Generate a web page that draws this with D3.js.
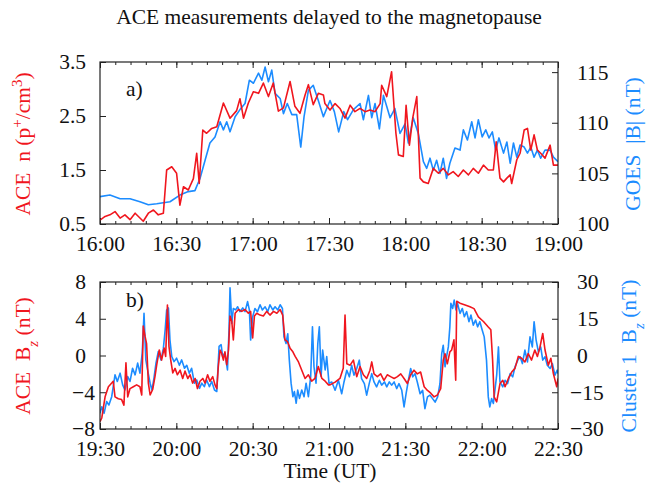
<!DOCTYPE html>
<html>
<head>
<meta charset="utf-8">
<script src="https://cdn.jsdelivr.net/npm/d3@7"></script>
<style>
  body { margin: 0; background: #fff; }
  svg text { font-family: "Liberation Serif", "Times New Roman", serif; fill: #111; }
  .axis path, .axis line { stroke: #222; }
</style>
</head>
<body>
<div id="chart"></div>
<script>
// panel a) 16:00-19:00, minutes after 16:00
var aceN = [[0,0.57],[2,0.64],[3.9,0.67],[5.9,0.73],[7.9,0.61],[9.8,0.67],[11.8,0.58],[13.8,0.7],[15.7,0.61],[17,0.55],[19,0.7],[21,0.76],[22.9,0.67],[24.9,0.7],[26.2,1.5],[28.2,1.56],[30.1,1.44],[31.4,0.85],[32.8,1.19],[34.7,1.13],[36.7,1.34],[38,1.81],[39,1.25],[40.4,2.24],[41.9,2.18],[43.9,2.27],[45.9,2.3],[48.5,2.74],[51.1,2.46],[53.7,2.6],[55,2.82],[56.4,2.46],[58.3,2.74],[60.3,2.95],[62.3,2.92],[64.2,3.11],[66.2,2.86],[68.1,3.11],[70.1,2.59],[72.1,2.65],[74.7,3.14],[76.6,2.68],[78.6,2.55],[80.6,2.89],[81.9,3.08],[83.8,2.71],[85.8,2.92],[87.8,2.89],[88.4,2.73],[90.4,2.61],[92.4,2.73],[94.3,2.64],[96.3,2.46],[98.3,2.7],[100.2,2.58],[102.2,2.64],[104.2,2.58],[106.1,2.61],[108.1,2.58],[110.1,2.73],[110.7,3.07],[112.7,2.86],[114.6,3.32],[116.3,2.18],[117.3,1.78],[119.2,1.75],[120.3,2.7],[121.6,1.96],[122.9,2.46],[124.5,2.86],[125.8,1.35],[127.1,1.28],[129,1.25],[131,1.53],[133,1.44],[134.9,1.53],[136.9,1.41],[138.8,1.47],[140.8,1.38],[142.8,1.5],[144.8,1.41],[146.7,1.53],[148.7,1.44],[150.7,1.59],[152.6,1.5],[154.6,1.5],[155.7,2.02],[157.2,1.35],[158.6,1.28],[159.9,1.35],[161.2,1.41],[161.8,1.25],[163.8,1.69],[165.1,1.81],[166.7,2.24],[168,2.27],[169.3,1.87],[170.6,2.15],[171.9,1.87],[173.2,1.81],[174.9,1.72],[176.9,1.96],[178.2,1.59],[180,1.59]];

var goesB = [[0,102.7],[3.9,102.86],[7.9,102.5],[11.8,102.5],[15.7,102.2],[19,101.9],[22.3,102.0],[24.9,102.1],[27.5,102.2],[31.4,102.86],[34.7,103.2],[37.3,103.3],[39.3,104.5],[41.3,106.3],[43.2,108.0],[45.2,108.6],[47.2,110.1],[48.5,109.3],[49.8,110.1],[51.1,109.1],[53.1,110.6],[55,111.3],[57,111.9],[58.7,114.2],[60.3,113.9],[62.3,114.9],[63.6,114.2],[64.9,115.5],[66.2,114.05],[67.5,115.2],[68.8,112.9],[70.8,112.4],[72.1,110.9],[73.6,111.9],[75.4,110.8],[77.3,110.8],[78.9,107.6],[80.2,110.6],[81.9,113.2],[83.8,113.7],[85.8,112.2],[87.8,110.6],[90.4,112.2],[92.1,111.1],[93.8,109.1],[95.8,111.1],[97.3,110.3],[99.6,111.3],[102.2,111.9],[103.5,110.3],[105.5,112.7],[106.8,110.5],[108.1,111.9],[109.8,109.4],[111.4,112.7],[112.7,111.6],[114,110.5],[115.9,111.4],[117.9,108.95],[119.9,109.9],[121.2,108.0],[123.1,110.5],[125.1,108.95],[127.1,106.15],[128.4,105.5],[129.7,106.5],[131,105.3],[132.3,106.3],[133.6,105.0],[134.9,106.5],[136.2,104.5],[137.5,106.0],[139.5,107.5],[141.5,107.3],[142.8,109.3],[144.4,108.3],[146.1,110.1],[147.4,108.5],[148.7,110.3],[150.2,108.6],[151.6,109.3],[152.9,108.5],[154.2,109.1],[155.5,107.3],[156.8,108.5],[158.6,107.0],[159.9,108.1],[161.2,106.0],[162.5,108.0],[163.8,106.6],[165.1,107.8],[166.7,107.6],[168,107.0],[169.3,107.6],[170.6,106.6],[171.9,107.3],[173.2,106.5],[174.9,107.3],[176.9,107.3],[178.2,106.6],[180,106.15]];

// panel b) 19:30-22:30, minutes after 19:30
var aceBz = [[0,-7.2],[0.7,-6.8],[2,-4.5],[3.3,-3.4],[4.6,-3.0],[5.2,-2.8],[5.9,-4.5],[7.2,-4.7],[8.5,-4.8],[9.4,-5.4],[10.2,-0.8],[10.9,-4.5],[11.8,-3.6],[13.1,-3.4],[14.4,-3.2],[15.7,-3.4],[16.4,-4.3],[17,3.2],[17.7,2.1],[18.3,1.3],[19,-3.0],[19.7,-4.3],[20.7,-3.7],[21.6,-2.3],[22.3,-1.0],[23.3,0.6],[24.2,-0.5],[25.2,0.8],[25.8,-0.1],[26.5,5.5],[27.1,1.0],[27.8,-0.5],[28.6,-1.9],[29.5,-1.4],[30.4,-2.1],[31.5,-1.6],[32.5,-2.5],[33.4,-1.7],[34.5,-2.5],[35.4,-2.1],[36.4,-3.0],[37.4,-2.5],[38.3,-3.6],[39.3,-2.8],[40.4,-2.5],[41.3,-3.0],[42.3,-2.1],[43.2,-2.8],[44.3,-2.3],[45.2,-3.2],[45.9,-3.6],[46.5,-1.2],[47.2,0.6],[47.8,0.25],[48.5,-0.5],[49.1,0.4],[49.8,-1.0],[50.5,0.6],[51.1,4.3],[51.8,3.7],[52.4,1.7],[53.1,4.6],[54.4,5.0],[55.7,4.8],[57,5.0],[58.3,4.6],[59.2,4.8],[60,1.9],[60.7,4.3],[61.6,4.6],[62.9,4.4],[64.2,4.3],[65.5,4.8],[66.8,4.4],[68.2,4.8],[69.5,4.6],[70.8,5.0],[71.8,4.4],[72.7,1.7],[73.7,1.5],[74.7,0.8],[75.8,0.4],[76.7,-0.1],[78,-0.7],[79.3,-1.6],[80.6,-2.5],[81.9,-2.1],[83.2,-2.8],[84.5,-2.5],[85.8,-1.2],[87.2,-2.5],[88.5,-2.8],[89.8,-3.2],[90.4,-3.2],[92.4,-2.9],[94.3,-2.5],[95.6,-1.4],[96.3,4.4],[97,-0.9],[98.3,-1.05],[99.6,-0.5],[100.9,-2.3],[102.2,-1.2],[103.5,-2.1],[104.8,-2.5],[106.1,-1.6],[106.8,-0.7],[107.7,-2.0],[109,-2.3],[110.3,-2.0],[111.6,-2.7],[112.9,-2.1],[114.2,-2.3],[115.6,-2.5],[116.9,-2.3],[118.2,-2.0],[119.5,-2.5],[120.8,-3.05],[122.1,-2.1],[123.4,-1.6],[124.7,-2.0],[126,-1.8],[127.4,-3.4],[128.7,-3.8],[130,-4.1],[131.3,-4.5],[132.6,-4.3],[133.9,-3.6],[134.9,-0.5],[135.6,0.2],[136.5,-0.9],[137.5,0.4],[138.2,0.6],[139.1,1.7],[139.8,-2.7],[140.2,5.9],[141.5,5.7],[143.5,5.5],[145.4,5.3],[147,5.1],[148.7,4.2],[150.7,3.7],[152.6,3.1],[153.6,2.8],[154.3,-0.5],[154.9,-4.5],[155.9,-5.05],[157.2,-3.05],[158.3,-2.7],[159.2,-3.4],[160.5,-2.5],[161.8,-1.8],[163.1,-1.4],[164.4,-0.1],[165.7,-0.3],[167,-0.7],[168.3,0.2],[169.6,-0.5],[170.9,0.6],[171.9,-0.1],[172.9,0.9],[174,2.4],[174.9,0.6],[176.2,-1.05],[177.2,-0.3],[178.2,-2.0],[179.5,-3.4],[180,-2.5]];

var clusterBz = [[0,-23.6],[0.7,-20.9],[1.6,-23.6],[2.6,-18.8],[3.5,-20.2],[4.6,-16.8],[5.9,-7.9],[6.8,-10.6],[7.9,-7.2],[8.9,-12.0],[9.8,-14.1],[10.9,-8.6],[11.8,-10.6],[12.8,-5.2],[13.8,-7.9],[14.8,-3.1],[15.7,-7.2],[16.6,1.0],[17.3,17.2],[18,-1.8],[18.7,-5.9],[19.7,-11.3],[20.4,-14.1],[21.2,-9.3],[22,-3.1],[22.9,1.6],[24,-1.8],[24.9,2.9],[25.6,10.4],[26.2,18.6],[26.9,19.4],[27.5,6.3],[28.2,-0.4],[29.1,-2.5],[30.1,-1.1],[31.2,-4.0],[32.1,-1.8],[33.2,-5.2],[34.1,-4.0],[35.1,-7.2],[36,-5.2],[37.1,-11.3],[38,-10.0],[39.1,-13.4],[40,-11.3],[41,-12.7],[41.9,-10.0],[43,-12.7],[43.9,-10.6],[45,-14.1],[45.9,-14.7],[46.8,3.7],[47.6,4.4],[48.2,-0.4],[49.1,1.0],[50.1,-5.9],[50.7,10.4],[51.1,27.6],[51.8,13.1],[52.4,19.2],[53.3,18.6],[54.1,19.9],[55,17.9],[56.1,19.4],[57,17.9],[58,22.0],[58.7,18.6],[59.2,6.3],[60,15.8],[60.9,19.2],[61.9,17.9],[62.9,20.7],[63.8,18.6],[64.9,19.9],[65.9,17.9],[66.8,20.7],[67.9,18.6],[68.8,19.9],[69.9,18.6],[70.8,20.7],[71.7,19.2],[72.3,7.6],[73.1,4.9],[73.8,8.9],[74.4,-1.8],[75.1,-11.3],[75.8,-16.8],[76.4,-14.7],[77.1,-19.5],[77.7,-14.1],[78.4,-17.5],[79.3,-14.1],[80.2,-16.8],[81,-11.3],[81.9,-16.8],[82.8,-8.6],[83.5,11.7],[84.1,-4.6],[84.9,-11.3],[85.6,4.9],[86.2,11.7],[86.9,-8.6],[87.5,2.2],[88.5,-5.9],[89.1,-0.4],[90,-11.3],[91.1,-10.8],[92.4,-14.2],[93.7,-10.1],[95,-15.6],[95.9,-10.8],[97,-6.0],[98,-8.7],[98.9,-4.0],[99.8,-8.0],[100.9,-5.3],[101.9,-1.9],[102.8,-9.4],[103.9,-11.5],[104.8,-16.2],[105.8,-11.5],[106.8,-7.4],[107.7,-10.8],[108.7,-12.8],[109.8,-10.1],[110.7,-12.1],[111.8,-10.8],[112.7,-12.8],[113.7,-10.8],[114.6,-12.1],[115.6,-10.8],[116.6,-13.5],[117.5,-11.5],[118.6,-14.2],[119.5,-21.0],[120.3,-15.6],[121.2,-10.1],[122.1,-5.3],[122.9,-8.7],[123.8,-7.4],[124.7,-10.8],[125.8,-15.6],[126.8,-14.2],[127.7,-21.7],[128.7,-16.9],[129.7,-16.2],[130.7,-17.6],[131.7,-19.0],[132.7,-16.9],[133.6,-11.5],[134.3,0.8],[134.9,4.2],[135.6,-4.6],[136.2,-0.5],[136.9,3.5],[137.5,11.7],[137.9,21.3],[138.6,19.2],[139.2,22.6],[139.9,18.6],[140.5,21.3],[141.5,17.2],[142.4,19.2],[143.2,15.8],[144.1,17.9],[145,13.8],[145.8,16.5],[146.7,12.4],[147.6,14.5],[148.4,11.7],[149.3,13.8],[150.2,10.4],[151,7.6],[151.9,-1.9],[152.6,-16.9],[153.2,-21.0],[153.9,-17.6],[154.6,-19.6],[155.2,-14.2],[155.9,-8.0],[156.6,3.5],[157.2,-10.8],[158.3,-12.8],[159.2,-10.1],[160.2,-11.5],[161.2,-7.4],[162.2,-8.7],[163.1,-4.6],[164.2,-1.9],[165.1,-0.5],[166,-3.3],[167,2.2],[168,-2.6],[169,7.6],[169.9,3.5],[170.6,13.8],[171.4,6.3],[172.3,1.5],[173.2,3.5],[174,-1.9],[174.9,-0.5],[175.8,-4.0],[176.9,-5.3],[177.8,-3.3],[178.8,-8.0],[179.7,-6.0],[180,-7.4]];

var xTicks = [0, 30, 60, 90, 120, 150, 180];
var nTicks = [0.5, 1.5, 2.5, 3.5];
var goesTicks = [100, 105, 110, 115];
var aceBzTicks = [-8, -4, 0, 4, 8];
var clusterTicks = [-30, -15, 0, 15, 30];

var red = "#f0161e", blue = "#1c8cff";
var w = 647, h = 498;
var left = 100, right = 558;
var fs = "21.5px";

var svg = d3.select("#chart").append("svg")
    .attr("width", w)
    .attr("height", h);

function hhmm(start) {
    return function(m) {
        var t = start + m;
        var hh = Math.floor(t / 60), mm = t % 60;
        return hh + ":" + (mm < 10 ? "0" : "") + mm;
    };
}

// strip d3's default font settings so the serif font applies
function plain(s) {
    s.attr("font-family", null).attr("font-size", null);
    s.select(".domain").remove();
}

var x = d3.scaleLinear().domain([0, 180]).range([left, right]);

function panel(top, bottom, startMin, yL, yR, lTicks, rTicks, redData, blueData, tag) {
    var g = svg.append("g");

    // minor x ticks every 6 min
    var minor = d3.range(0, 181, 6);

    g.append("g").attr("class", "axis")
        .attr("transform", "translate(0," + bottom + ")")
        .call(d3.axisBottom(x).tickValues(minor).tickSize(-3).tickFormat(""))
        .call(plain);
    g.append("g").attr("class", "axis")
        .attr("transform", "translate(0," + bottom + ")")
        .call(d3.axisBottom(x).tickValues(xTicks).tickSize(-6).tickPadding(12).tickFormat(hhmm(startMin)))
        .call(plain)
        .selectAll("text").style("font-size", fs);
    // top mirrored ticks
    g.append("g").attr("class", "axis")
        .attr("transform", "translate(0," + top + ")")
        .call(d3.axisTop(x).tickValues(minor).tickSize(-3).tickFormat(""))
        .call(plain);
    g.append("g").attr("class", "axis")
        .attr("transform", "translate(0," + top + ")")
        .call(d3.axisTop(x).tickValues(xTicks).tickSize(-6).tickFormat(""))
        .call(plain);

    // left axis
    g.append("g").attr("class", "axis")
        .attr("transform", "translate(" + left + ",0)")
        .call(d3.axisLeft(yL).tickValues(lTicks).tickSize(-6).tickPadding(14))
        .call(plain)
        .selectAll("text").style("font-size", fs)
        .attr("dx", function(d) { return d < 0 ? 9 : 0; });

    // right axis
    g.append("g").attr("class", "axis")
        .attr("transform", "translate(" + right + ",0)")
        .call(d3.axisRight(yR).tickValues(rTicks).tickSize(-6).tickPadding(19))
        .call(plain)
        .selectAll("text").style("font-size", fs)
        .attr("dx", function(d) { return d < 0 ? -7 : 0; });

    var clip = "clip-" + tag;
    svg.append("clipPath").attr("id", clip)
        .append("rect").attr("x", left).attr("y", top)
        .attr("width", right - left).attr("height", bottom - top);

    var lineB = d3.line().x(function(d) { return x(d[0]); }).y(function(d) { return yR(d[1]); });
    var lineR = d3.line().x(function(d) { return x(d[0]); }).y(function(d) { return yL(d[1]); });

    g.append("path").datum(blueData)
        .attr("clip-path", "url(#" + clip + ")")
        .attr("fill", "none").attr("stroke", blue).attr("stroke-width", 1.6)
        .attr("stroke-linejoin", "round")
        .attr("d", lineB);
    g.append("path").datum(redData)
        .attr("clip-path", "url(#" + clip + ")")
        .attr("fill", "none").attr("stroke", red).attr("stroke-width", 1.6)
        .attr("stroke-linejoin", "round")
        .attr("d", lineR);

    // frame
    g.append("rect")
        .attr("x", left).attr("y", top)
        .attr("width", right - left).attr("height", bottom - top)
        .attr("fill", "none").attr("stroke", "#222").attr("stroke-width", 1.2);

    g.append("text").text(tag + ")")
        .attr("x", 126).attr("y", top + (tag === "a" ? 34 : 25))
        .style("font-size", fs);
}

// panel a
var yN = d3.scaleLinear().domain([0.5, 3.5]).range([224, 62]);
var yG = d3.scaleLinear().domain([100, 116]).range([224, 62]);
panel(62, 224, 16 * 60, yN, yG, nTicks, goesTicks, aceN, goesB, "a");

// panel b
var yA = d3.scaleLinear().domain([-8, 8]).range([429, 282]);
var yC = d3.scaleLinear().domain([-30, 30]).range([429, 282]);
panel(282, 429, 19 * 60 + 30, yA, yC, aceBzTicks, clusterTicks, aceBz, clusterBz, "b");

// title
svg.append("text")
    .attr("x", 329).attr("y", 24)
    .attr("text-anchor", "middle")
    .style("font-size", "21.5px")
    .text("ACE measurements delayed to the magnetopause");

svg.append("text")
    .attr("x", 330).attr("y", 478)
    .attr("text-anchor", "middle")
    .style("font-size", fs)
    .text("Time (UT)");

// rotated axis titles
function vlabel(xp, yp, color, parts) {
    var t = svg.append("text")
        .attr("transform", "translate(" + xp + "," + yp + ") rotate(-90)")
        .attr("text-anchor", "middle")
        .style("font-size", fs)
        .style("fill", color);
    parts.forEach(function(p) {
        var ts = t.append("tspan").text(p[0]).style("fill", color);
        if (p[1] === "sup") ts.attr("baseline-shift", "super").style("font-size", "15px");
        if (p[1] === "sub") ts.attr("baseline-shift", "sub").style("font-size", "15px").style("font-style", "italic");
    });
}

vlabel(30, 144, red, [["ACE\u00a0\u00a0n\u00a0(p"], ["+", "sup"], ["/cm"], ["3", "sup"], [")"]]);
vlabel(640, 144, blue, [["GOES\u00a0\u00a0|B|\u00a0(nT)"]]);
vlabel(30, 356, red, [["ACE\u00a0\u00a0B"], ["z", "sub"], ["\u00a0(nT)"]]);
vlabel(636, 356, blue, [["Cluster\u00a01\u00a0\u00a0B"], ["z", "sub"], ["\u00a0(nT)"]]);
</script>
</body>
</html>
